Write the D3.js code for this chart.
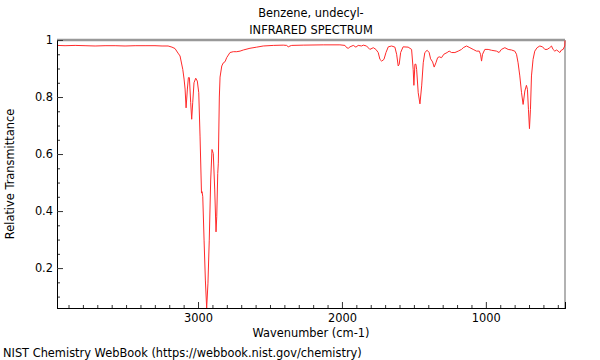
<!DOCTYPE html>
<html><head><meta charset="utf-8">
<script src="https://cdn.jsdelivr.net/npm/d3@7"></script>
<style>body{margin:0;background:#fff}svg{display:block;font-family:"DejaVu Sans",sans-serif}</style>
</head><body><svg id="c" width="600" height="360"></svg>
<script>
const title = "Benzene, undecyl-";
const subtitle = "INFRARED SPECTRUM";
const xLabel = "Wavenumber (cm-1)";
const yLabel = "Relative Transmittance";
const footer = "NIST Chemistry WebBook (https://webbook.nist.gov/chemistry)";
const xTicks = [3000, 2000, 1000];
const yTicks = [0.2, 0.4, 0.6, 0.8, 1];
const yTickLabels = ["0.2", "0.4", "0.6", "0.8", "1"];
const wavenumber = [3979,3924,3854,3785,3715,3646,3576,3507,3437,3368,3299,3250,3208,3181,3160,3139,3125,3106,3097,3090,3083,3074,3067,3060,3051,3044,3037,3028,3016,3005,2995,2986,2979,2976,2972,2967,2958,2949,2940,2931,2922,2912,2903,2894,2884,2875,2870,2863,2859,2852,2847,2835,2824,2812,2801,2778,2755,2731,2708,2685,2639,2592,2547,2477,2408,2384,2373,2361,2349,2269,2130,2014,1979,1967,1956,1944,1921,1903,1887,1863,1852,1829,1806,1782,1764,1748,1736,1724,1708,1694,1678,1655,1632,1620,1609,1602,1592,1575,1540,1516,1505,1500,1493,1486,1481,1470,1458,1446,1435,1424,1408,1394,1384,1370,1359,1347,1335,1324,1308,1292,1269,1255,1238,1215,1192,1169,1157,1134,1111,1088,1065,1046,1037,1030,1023,1007,984,961,926,908,892,868,845,822,799,787,776,764,752,741,729,718,711,704,697,690,683,672,660,644,625,606,590,574,556,544,533,521,508,498,486,474,463,452,450];
const transmittance = [0.981,0.980,0.981,0.980,0.979,0.980,0.980,0.979,0.980,0.980,0.980,0.979,0.979,0.975,0.970,0.954,0.944,0.897,0.863,0.828,0.762,0.828,0.868,0.868,0.780,0.722,0.780,0.850,0.866,0.856,0.815,0.663,0.523,0.463,0.468,0.450,0.298,0.158,0.060,0.147,0.298,0.509,0.616,0.602,0.474,0.327,0.380,0.532,0.568,0.800,0.870,0.909,0.920,0.924,0.938,0.956,0.959,0.959,0.961,0.965,0.971,0.975,0.979,0.981,0.982,0.981,0.976,0.979,0.981,0.982,0.983,0.983,0.981,0.973,0.971,0.976,0.981,0.975,0.981,0.979,0.982,0.979,0.967,0.973,0.967,0.956,0.932,0.926,0.932,0.956,0.976,0.979,0.975,0.950,0.909,0.915,0.956,0.976,0.975,0.967,0.897,0.841,0.915,0.915,0.897,0.815,0.776,0.839,0.920,0.956,0.964,0.956,0.934,0.923,0.905,0.920,0.938,0.941,0.938,0.950,0.956,0.961,0.956,0.956,0.961,0.967,0.973,0.979,0.973,0.967,0.961,0.961,0.950,0.926,0.950,0.967,0.967,0.964,0.961,0.956,0.967,0.973,0.967,0.965,0.961,0.950,0.920,0.874,0.815,0.774,0.821,0.841,0.827,0.757,0.689,0.757,0.874,0.932,0.961,0.973,0.979,0.976,0.967,0.967,0.973,0.979,0.967,0.961,0.965,0.961,0.956,0.965,0.967,0.979,0.998];

const FS = "11.4px";
const svg = d3.select("#c");
const L = 57, R = 565, T = 40, B = 308;
const x = d3.scaleLinear().domain([3980, 450]).range([L, R]);
const y = d3.scaleLinear().domain([0.06, 1]).range([B, T]);

// frame top/right
svg.append("line").attr("x1", L).attr("x2", R).attr("y1", T).attr("y2", T).attr("stroke", "#999").attr("stroke-width", 2.5);
svg.append("line").attr("x1", R).attr("x2", R).attr("y1", T).attr("y2", B).attr("stroke", "#999").attr("stroke-width", 1.5);

// clip
svg.append("clipPath").attr("id", "clip").append("rect").attr("x", L).attr("y", T - 1).attr("width", R - L + 1).attr("height", B - T + 1);

const data = wavenumber.map((w, i) => [w, transmittance[i]]);
svg.append("path").datum(data).attr("clip-path", "url(#clip)")
  .attr("fill", "none").attr("stroke", "#ff2a2a").attr("stroke-width", 1)
  .attr("d", d3.line().x(d => x(d[0])).y(d => y(d[1])));

// x axis
const xMinor = d3.range(500, 4000, 100).filter(v => !xTicks.includes(v));
const gx = svg.append("g").attr("transform", `translate(0,${B})`);
gx.call(d3.axisBottom(x).tickValues(xMinor).tickSize(-3).tickFormat(""));
gx.append("g").call(d3.axisBottom(x).tickValues(xTicks).tickSize(-6).tickFormat(d3.format("d")));
gx.selectAll(".domain").attr("stroke", "#000");
gx.selectAll("text").attr("y", 6).attr("dy", "0.71em").attr("fill", "#000").style("font-size", FS).style("font-family", "DejaVu Sans");
gx.selectAll("line").attr("stroke", "#333");

// y axis
const yMinor = d3.range(0.1, 1.0, 0.05).map(v => +v.toFixed(2)).filter(v => !yTicks.some(t => Math.abs(t - v) < 1e-6));
const gy = svg.append("g").attr("transform", `translate(${L},0)`);
gy.call(d3.axisLeft(y).tickValues(yMinor).tickSize(-3).tickFormat(""));
gy.append("g").call(d3.axisLeft(y).tickValues(yTicks).tickSize(-6).tickFormat((d, i) => yTickLabels[i]));
gy.selectAll(".domain").attr("stroke", "#000");
gy.selectAll("text").attr("x", -4).attr("fill", "#000").style("font-size", FS).style("font-family", "DejaVu Sans");
gy.selectAll("line").attr("stroke", "#333");

// texts
svg.append("text").attr("x", (L + R) / 2).attr("y", 17).attr("text-anchor", "middle").style("font-size", FS).text(title);
svg.append("text").attr("x", (L + R) / 2).attr("y", 34).attr("text-anchor", "middle").style("font-size", FS).text(subtitle);
svg.append("text").attr("x", (L + R) / 2).attr("y", 337).attr("text-anchor", "middle").style("font-size", FS).text(xLabel);
svg.append("text").attr("transform", `translate(14,${(T + B) / 2}) rotate(-90)`).attr("text-anchor", "middle").style("font-size", FS).text(yLabel);
svg.append("text").attr("x", 3).attr("y", 357).style("font-size", FS).text(footer);
</script></body></html>
